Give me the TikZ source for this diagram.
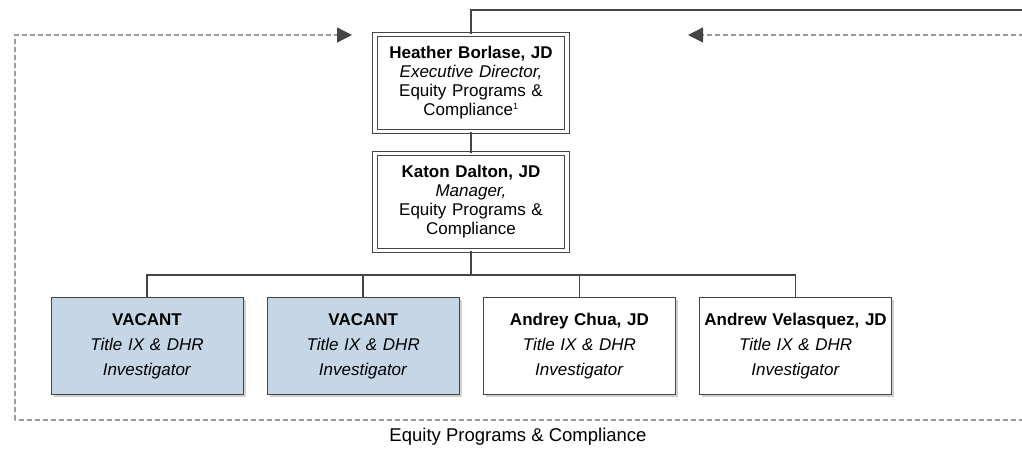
\documentclass[tikz,border=0pt]{standalone}
\usepackage{fontspec}
\setmainfont{Liberation Sans}
\usepackage{xcolor}
\usepackage{tikz}
\usetikzlibrary{shapes.geometric, arrows.meta, shadows, positioning}
\definecolor{vacantblue}{HTML}{C5D6E6}
\definecolor{linegray}{HTML}{454545}
\definecolor{dashgray}{HTML}{9A9A9A}
\tikzstyle{box} = [rectangle, minimum width=192pt, minimum height=97pt, text width=188pt, inner xsep=2pt, align=center, draw=linegray, fill=white, line width=0.9pt, drop shadow={shadow xshift=2.5pt, shadow yshift=-2.5pt, fill=black!18, opacity=1}, font=\fontsize{17}{25}\selectfont]
\tikzstyle{headbox} = [box, double=white, double distance=3.5pt, line width=1pt, font=\fontsize{17}{19}\selectfont]
\tikzstyle{vacant} = [box, fill=vacantblue]
\tikzstyle{link} = [line width=1.6pt, draw=linegray]
\tikzstyle{dotlink} = [line width=1.2pt, draw=dashgray, dash pattern=on 5pt off 3pt]
\tikzstyle{arrow} = [dotlink, -{Triangle[length=15pt, width=15pt, color=linegray]}]

\begin{document}
\begin{tikzpicture}[x=1pt, y=-1pt, node distance=23.3pt]
		\useasboundingbox (0,0) rectangle (1022,450);
		\node[headbox] (borlase) at (471,83) {\textbf{Heather Borlase, JD}\\\textit{Executive Director,}\\Equity Programs \&\\Compliance\textsuperscript{\small 1}};
		\node[headbox] (dalton) at (471,202) {\textbf{Katon Dalton, JD}\\\textit{Manager,}\\Equity Programs \&\\Compliance};
		\node[vacant] (vacantone) at (147,346) {\textbf{VACANT}\\\textit{Title IX \& DHR}\\\textit{Investigator}};
		\node[vacant, right = of vacantone] (vacanttwo) {\textbf{VACANT}\\\textit{Title IX \& DHR}\\\textit{Investigator}};
		\node[box, right = of vacanttwo] (chua) {\textbf{Andrey Chua, JD}\\\textit{Title IX \& DHR}\\\textit{Investigator}};
		\node[box, right = of chua] (velasquez) {\textbf{Andrew Velasquez, JD}\\\textit{Title IX \& DHR}\\\textit{Investigator}};
		\node (unit) at (518,437) {\fontsize{18.5}{20}\selectfont Equity Programs \& Compliance};

		\coordinate (topright) at (1022,10);
		\coordinate (leftcorner) at (15,420);
		\coordinate (lefttip) at (352,35);
		\coordinate (righttip) at (688,35);
		\coordinate (rightend) at (1024,35);
		\coordinate (bottomend) at (1024,420);

		\draw[link] (borlase.north) |- (topright);
		\draw[link] (borlase) -- (dalton);
		\draw[link] (dalton.south) -- ++(0,24) -| (vacantone.north);
		\draw[link] (dalton.south) -- ++(0,24) -| (vacanttwo.north);
		\draw[link] (dalton.south) -- ++(0,24) -| (chua.north);
		\draw[link] (dalton.south) -- ++(0,24) -| (velasquez.north);

		\draw[dotlink] (bottomend) -- (leftcorner);
		\draw[arrow] (leftcorner) |- (lefttip);
		\draw[arrow] (rightend) -- (righttip);
	\end{tikzpicture}
\end{document}
